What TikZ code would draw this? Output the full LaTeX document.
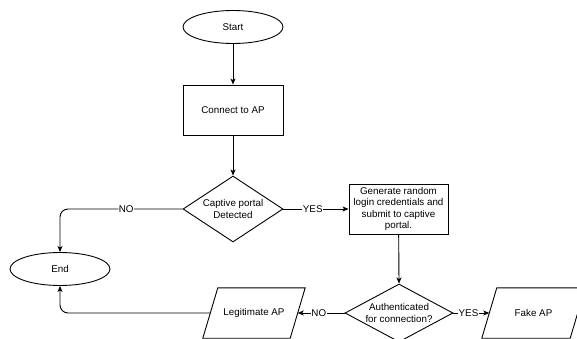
\documentclass[tikz,border=0pt]{standalone}
\usepackage{fontspec}
\setmainfont{Liberation Sans}
\usetikzlibrary{shapes.geometric,arrows.meta}
\begin{document}
\begin{tikzpicture}[x=1pt,y=-1pt,
  every node/.style={font=\fontsize{9.8}{11.4}\selectfont, text=black},
  line/.style={draw=black, line width=0.9pt},
  arr/.style={line, -{Stealth[length=6pt,width=5pt,inset=1.5pt]}},
  term/.style={line, ellipse, minimum width=100pt, minimum height=33pt, inner sep=0pt},
  proc/.style={line, rectangle, minimum width=100pt, minimum height=50pt, inner sep=1pt, align=center},
  dec/.style={line, diamond, inner sep=0pt},
  io/.style={rectangle, minimum width=88pt, minimum height=50pt, inner sep=0pt},
  lbl/.style={fill=white, inner sep=0.5pt}
]
\useasboundingbox (0,0) rectangle (577,339);

\node[term] (start) at (233,27) {Start};
\node[proc] (conn) at (233,110) {Connect to AP};
\node[dec, minimum width=100pt, minimum height=66pt,
      label={[align=center]center:Captive portal\\Detected}] (d1) at (233,209) {};
\node[term] (end) at (60,269) {End};
\node[proc, minimum width=99pt] (gen) at (398.5,209)
  {Generate random\\login credentials and\\submit to captive\\portal.};
\node[dec, minimum width=108pt, minimum height=58pt,
      label={[align=center]center:Authenticated\\for connection?}] (d2) at (399,313) {};
\node[io, minimum width=87pt] (legit) at (254,313) {Legitimate AP};
\node[io] (fake) at (533.5,313) {Fake AP};

\draw[line] ([xshift=-7.5pt]legit.north east) -- ([xshift=7.5pt]legit.north east)
  -- ([xshift=-7.5pt]legit.south east) -- ([xshift=-7.5pt]legit.south west)
  -- ([xshift=7.5pt]legit.north west) -- cycle;
\draw[line] ([xshift=7.5pt]fake.north west) -- ([xshift=7.5pt]fake.north east)
  -- ([xshift=-7.5pt]fake.south east) -- ([xshift=-7.5pt]fake.south west) -- cycle;

\draw[arr] (start) -- (conn);
\draw[arr] (conn) -- (d1);
\draw[arr, rounded corners=8pt] (d1.west) -| (end.north)
  node[lbl, pos=0.23] {NO};
\draw[arr] (d1.east) -- (gen.west) node[lbl, pos=0.45] {YES};
\draw[arr] (gen) -- (d2.north);
\draw[arr] (d2.west) -- (legit.east) node[lbl, pos=0.55] {NO};
\draw[arr] (d2.east) -- (fake.west) node[lbl, pos=0.42] {YES};
\draw[arr, rounded corners=8pt] (legit.west) -| (end.south);
\end{tikzpicture}
\end{document}
